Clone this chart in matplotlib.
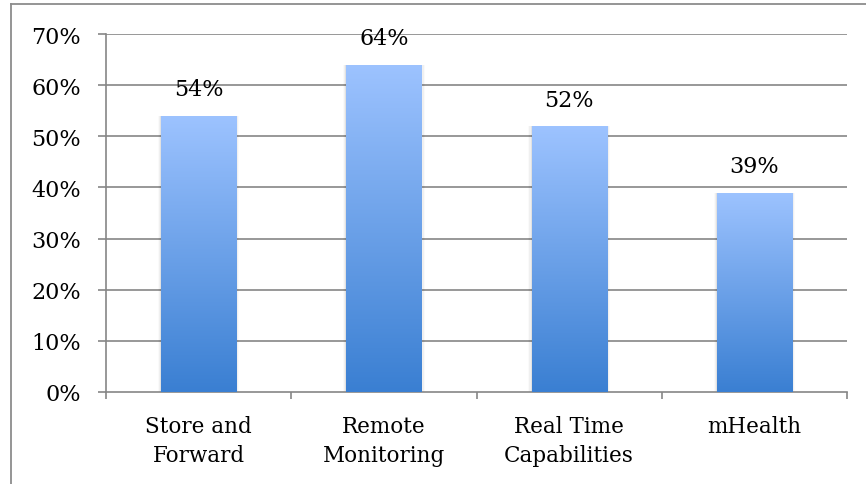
import matplotlib
matplotlib.use("Agg")
import matplotlib.pyplot as plt
import numpy as np
from matplotlib.colors import LinearSegmentedColormap
from matplotlib.patches import Rectangle
from matplotlib.lines import Line2D

categories = ["Store and\nForward", "Remote\nMonitoring", "Real Time\nCapabilities", "mHealth"]
values = [54, 64, 52, 39]
yticks = [0, 10, 20, 30, 40, 50, 60, 70]

plt.rcParams['font.family'] = ['DejaVu Serif']
W, H = 866, 485
fig = plt.figure(figsize=(W/100, H/100), dpi=100)
fig.patch.set_facecolor('white')

# outer border (cropped on the right and bottom)
fig.add_artist(Line2D([11/W, 1.0], [1 - 5/H, 1 - 5/H], transform=fig.transFigure,
                      color='#8c8c8c', linewidth=1.3))
fig.add_artist(Line2D([11/W, 11/W], [0, 1 - 5/H], transform=fig.transFigure,
                      color='#8c8c8c', linewidth=1.3))

ax = fig.add_axes([106/W, 1 - 393/H, (847-106)/W, (393-35)/H])
ax.set_xlim(0, 4)
ax.set_ylim(0, 70)

grid_c = '#868686'
for y in yticks[1:]:
    ax.axhline(y, color=grid_c, linewidth=1.2, zorder=1)

cmap = LinearSegmentedColormap.from_list('g', ['#3a7fd2', '#9dc3ff'])
grad = np.linspace(0, 1, 256).reshape(-1, 1)
bw = 0.405
for i, v in enumerate(values):
    x0 = i + 0.5 - bw/2
    # soft shadow
    for k, a in enumerate([0.06, 0.04, 0.02]):
        d = 0.006 * (k + 1)
        sh = Rectangle((x0 - d, 0), bw + 2*d, v, facecolor='#000000', alpha=a,
                       edgecolor='none', zorder=2)
        ax.add_patch(sh)
    rect = Rectangle((x0, 0), bw, v, facecolor='none', edgecolor='none', zorder=3)
    ax.add_patch(rect)
    im = ax.imshow(grad, extent=[x0, x0 + bw, 0, v], origin='lower', cmap=cmap,
                   aspect='auto', zorder=3)
    im.set_clip_path(rect)
    ax.text(i + 0.5, v + 3.0, f"{v}%", ha='center', va='bottom', fontsize=16, color='black', zorder=4)

ax.set_xlim(0, 4)
ax.set_ylim(0, 70)

for s in ['top', 'right']:
    ax.spines[s].set_visible(False)
ax.spines['left'].set_color(grid_c)
ax.spines['left'].set_linewidth(1.2)
ax.spines['bottom'].set_color(grid_c)
ax.spines['bottom'].set_linewidth(1.2)

ax.set_yticks(yticks)
ax.set_yticklabels([f"{t}%" for t in yticks], fontsize=16)
ax.tick_params(axis='y', length=6, width=1.2, color=grid_c, pad=12)

ax.set_xticks([0, 1, 2, 3, 4])
ax.set_xticklabels([])
ax.tick_params(axis='x', length=5, width=1.2, color=grid_c)
for i, c in enumerate(categories):
    ax.text(i + 0.5, -4.4, c, ha='center', va='top', fontsize=15.5, linespacing=1.42,
            transform=ax.transData)

fig.savefig("out.png", dpi=100, facecolor='white')
